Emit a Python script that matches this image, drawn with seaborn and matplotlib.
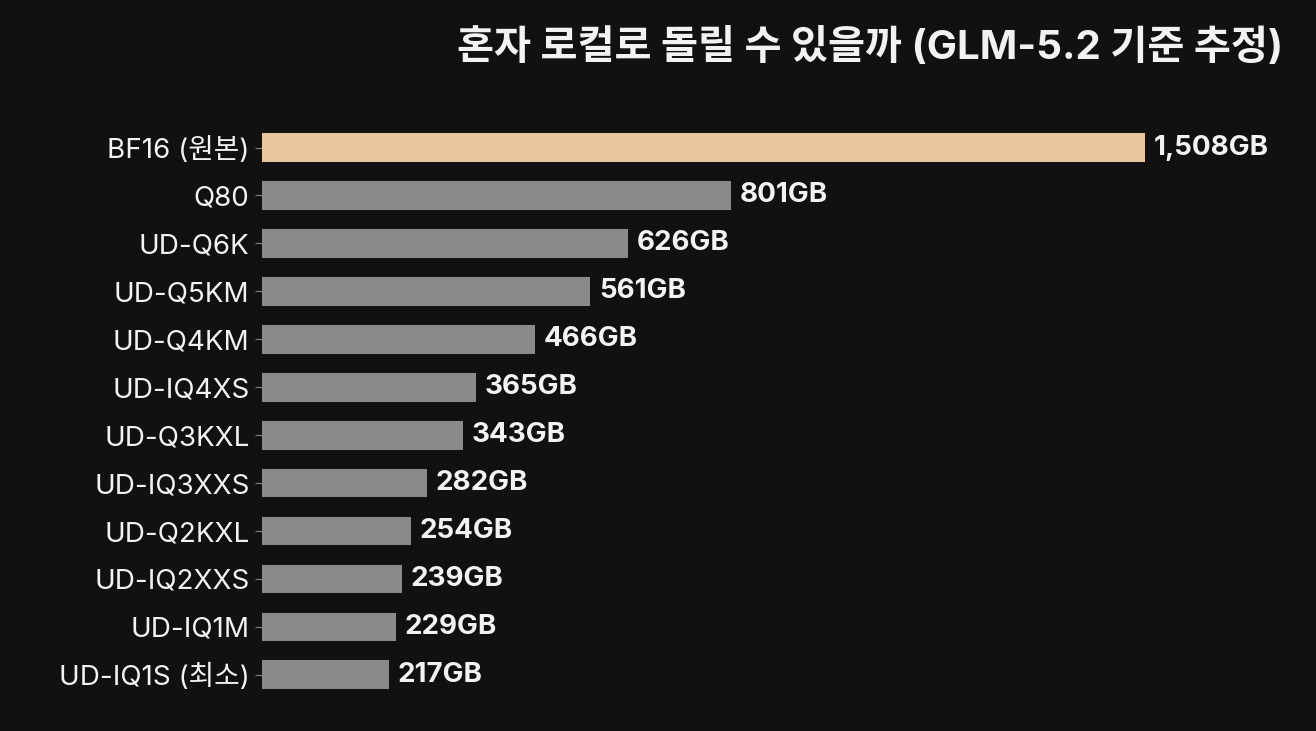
import matplotlib
matplotlib.use("Agg")
import matplotlib.pyplot as plt
import seaborn as sns
import pandas as pd

labels = ["BF16 (원본)", "Q80", "UD-Q6K", "UD-Q5KM", "UD-Q4KM", "UD-IQ4XS", "UD-Q3KXL",
          "UD-IQ3XXS", "UD-Q2KXL", "UD-IQ2XXS", "UD-IQ1M", "UD-IQ1S (최소)"]
sizes = [1508, 801, 626, 561, 466, 365, 343, 282, 254, 239, 229, 217]
title = "혼자 로컬로 돌릴 수 있을까 (GLM-5.2 기준 추정)"

sns.set_style("dark")
plt.rcParams['font.family'] = ['Inter', 'Noto Sans CJK KR', 'DejaVu Sans']
bg = "#111111"
fig = plt.figure(figsize=(13.16, 7.31), dpi=100, facecolor=bg)
ax = fig.add_axes([0.199, 0.044, 0.789, 0.787], facecolor=bg)
df = pd.DataFrame({"label": labels, "size": sizes})
colors = ["#e8c79e"] + ["#8a8a8a"] * (len(labels) - 1)
sns.barplot(data=df, y="label", x="size", hue="label", palette=colors, legend=False,
            ax=ax, width=0.6, saturation=1, linewidth=0, edgecolor="none")
ax.set_xlim(0, 1774)
ax.set_ylim(len(labels) - 0.5, -0.5)
for i, v in enumerate(sizes):
    ax.text(v + 15, i, f"{v:,}GB", va="center", ha="left", color="#f2f2f2",
            fontsize=20, fontweight="bold")
ax.set_xlabel(""); ax.set_ylabel("")
ax.set_xticks([])
ax.tick_params(axis="y", colors="#f2f2f2", labelsize=20, length=5, color="#888888", left=True, pad=4)
ax.grid(False)
for s in ax.spines.values():
    s.set_visible(False)
fig.text(0.975, 0.935, title, ha="right", va="center", color="#f2f2f2",
         fontsize=29, fontweight="bold")
fig.savefig("out.png", facecolor=bg)
